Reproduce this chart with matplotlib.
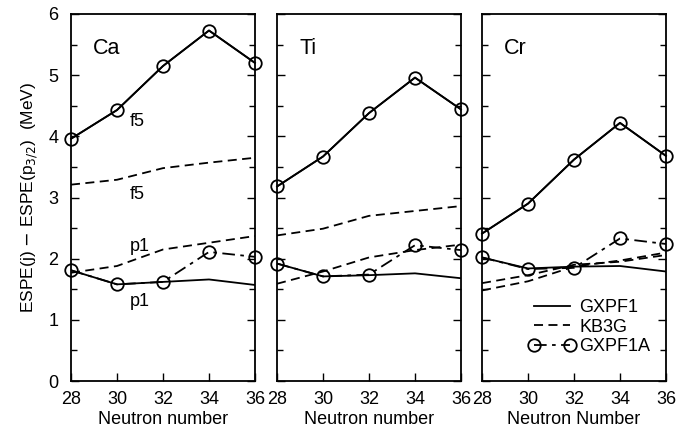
import matplotlib
matplotlib.use("Agg")
import matplotlib.pyplot as plt
from matplotlib.ticker import MultipleLocator
from matplotlib.lines import Line2D

plt.rcParams['font.family'] = ['Liberation Sans', 'DejaVu Sans']

neutrons = [28, 30, 32, 34, 36]
nuclei = ["Ca", "Ti", "Cr"]

# GXPF1A f5 (solid + circles; coincides with GXPF1 f5)
gxpf1a_f5 = {"Ca": [3.96, 4.43, 5.15, 5.73, 5.20],
             "Ti": [3.18, 3.67, 4.38, 4.96, 4.44],
             "Cr": [2.41, 2.90, 3.62, 4.22, 3.68]}
# GXPF1 p1
gxpf1_p1 = {"Ca": [1.81, 1.58, 1.62, 1.66, 1.57],
            "Ti": [1.92, 1.71, 1.73, 1.76, 1.68],
            "Cr": [2.02, 1.84, 1.87, 1.88, 1.79]}
# GXPF1A p1
gxpf1a_p1 = {"Ca": [1.81, 1.58, 1.62, 2.11, 2.03],
             "Ti": [1.92, 1.71, 1.74, 2.22, 2.14],
             "Cr": [2.02, 1.83, 1.85, 2.33, 2.24]}
# KB3G f5
kb3g_f5 = {"Ca": [3.21, 3.29, 3.48, 3.57, 3.65],
           "Ti": [2.38, 2.49, 2.70, 2.78, 2.86],
           "Cr": [1.48, 1.63, 1.87, 1.97, 2.10]}
# KB3G p1
kb3g_p1 = {"Ca": [1.77, 1.88, 2.15, 2.26, 2.37],
           "Ti": [1.59, 1.79, 2.02, 2.14, 2.23],
           "Cr": [1.60, 1.73, 1.90, 1.95, 2.06]}

xlabels = ["Neutron number", "Neutron number", "Neutron Number"]

fig = plt.figure(figsize=(6.99, 4.33), dpi=100)
W, H = 699.0, 433.0
lefts = [71, 277, 482]
width = 184
bottom_px, top_px = 381, 14

dd = (0, (7, 3, 2, 3))
dash = (0, (5, 3))
lw = 1.3
fs = 13

for i, nuc in enumerate(nuclei):
    ax = fig.add_axes([lefts[i] / W, 1 - bottom_px / H, width / W, (bottom_px - top_px) / H])
    ax.plot(neutrons, gxpf1a_f5[nuc], color='black', lw=lw, ls='-')
    ax.plot(neutrons, kb3g_f5[nuc], color='black', lw=lw, ls=dash)
    ax.plot(neutrons, kb3g_p1[nuc], color='black', lw=lw, ls=dash)
    ax.plot(neutrons, gxpf1_p1[nuc], color='black', lw=lw, ls='-')
    ax.plot(neutrons, gxpf1a_p1[nuc], color='black', lw=lw, ls=dd,
            marker='o', ms=9, mfc='none', mec='black', mew=1.3, clip_on=False)
    ax.plot(neutrons, gxpf1a_f5[nuc], color='black', lw=lw, ls='-',
            marker='o', ms=9, mfc='none', mec='black', mew=1.3, clip_on=False)
    ax.set_xlim(28, 36)
    ax.set_ylim(0, 6)
    ax.set_xticks(neutrons)
    ax.yaxis.set_major_locator(MultipleLocator(1))
    ax.yaxis.set_minor_locator(MultipleLocator(0.5))
    ax.tick_params(axis='both', which='both', direction='in', labelsize=fs)
    ax.tick_params(axis='y', which='both', left=True, right=True)
    ax.tick_params(axis='both', which='major', length=6, width=1)
    ax.tick_params(axis='y', which='minor', length=4, width=1)
    ax.tick_params(axis='x', pad=7)
    ax.tick_params(axis='y', pad=9)
    if i > 0:
        ax.set_yticklabels([])
    for sp in ax.spines.values():
        sp.set_linewidth(1.3)
    ax.set_xlabel(xlabels[i], fontsize=fs, labelpad=2)
    ax.text(0.12, 0.935, nuc, transform=ax.transAxes, fontsize=15.5, va='top', ha='left')
    if i == 0:
        ax.set_ylabel(r"ESPE(j) $-$ ESPE(p$_{3/2}$)  (MeV)", fontsize=12.5, labelpad=6)
        ax.text(30.55, 4.25, "f5", fontsize=fs, va='center')
        ax.text(30.55, 3.05, "f5", fontsize=fs, va='center')
        ax.text(30.55, 2.2, "p1", fontsize=fs, va='center')
        ax.text(30.55, 1.3, "p1", fontsize=fs, va='center')
    if i == 2:
        handles = [Line2D([], [], color='black', lw=lw, ls='-'),
                   Line2D([], [], color='black', lw=lw, ls=dash),
                   Line2D([], [], color='black', lw=lw, ls=dd, marker='o', ms=9,
                          mfc='none', mec='black', mew=1.3)]
        leg = ax.legend(handles, ["GXPF1", "KB3G", "GXPF1A"], loc='lower right',
                        bbox_to_anchor=(0.975, 0.04), frameon=False, fontsize=fs,
                        handlelength=2.6, handletextpad=0.25, labelspacing=0.15,
                        borderaxespad=0.2, numpoints=2)

fig.savefig("out.png", dpi=100)
